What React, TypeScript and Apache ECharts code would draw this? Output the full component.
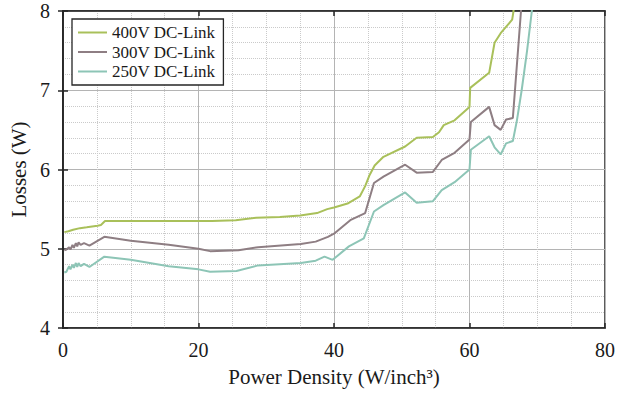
import React, { useEffect, useRef } from "react";
import * as echarts from "echarts";

const seriesNames = ["400V DC-Link", "300V DC-Link", "250V DC-Link"];
const seriesColors = ["#a9c05a", "#8e7e83", "#8dc5b6"];

const x400 = [0.2, 0.8, 1.5, 2.5, 3.5, 4.3, 5.1, 5.6, 6.2, 10, 15, 20, 22, 25.5, 28.5, 32, 35, 37.5, 39, 40, 42, 43.8, 44.6, 45.2, 46, 47.3, 50.5, 52.2, 54.6, 55.5, 56.2, 57.8, 60, 60.1, 62.9, 63.7, 64.6, 66.3, 66.5, 66.8];
const y400 = [5.21, 5.22, 5.24, 5.26, 5.27, 5.28, 5.29, 5.30, 5.35, 5.35, 5.35, 5.35, 5.35, 5.36, 5.39, 5.40, 5.42, 5.45, 5.50, 5.52, 5.57, 5.66, 5.79, 5.92, 6.05, 6.16, 6.29, 6.40, 6.41, 6.47, 6.56, 6.62, 6.79, 7.03, 7.22, 7.60, 7.72, 7.89, 8.0, 8.3];

const x300 = [0.2, 0.5, 0.9, 1.1, 1.4, 1.6, 1.9, 2.1, 2.3, 2.6, 3.1, 3.9, 6.1, 10, 15.6, 20, 21.7, 25.9, 28.8, 35.1, 37.3, 39.1, 40, 42.4, 44.6, 45.9, 47.3, 50.5, 52.2, 54.6, 55.9, 57.8, 60, 60.2, 62.9, 63.7, 64.6, 65.4, 66.4, 67.6, 67.8];
const y300 = [4.98, 4.99, 5.02, 4.99, 5.05, 5.01, 5.07, 5.03, 5.08, 5.05, 5.07, 5.04, 5.15, 5.10, 5.05, 5.00, 4.97, 4.98, 5.02, 5.06, 5.09, 5.15, 5.19, 5.36, 5.45, 5.83, 5.91, 6.06, 5.96, 5.97, 6.12, 6.21, 6.38, 6.60, 6.79, 6.56, 6.50, 6.63, 6.65, 8.0, 8.3];

const x250 = [0.2, 0.5, 0.9, 1.1, 1.4, 1.6, 1.9, 2.1, 2.3, 2.6, 3.1, 3.9, 6.1, 10, 15.6, 20, 21.7, 25.6, 28.8, 35.1, 37.3, 38.6, 39.8, 42.2, 44.4, 45.9, 47.3, 50.5, 52.2, 54.6, 55.9, 57.8, 60, 60.2, 62.9, 63.7, 64.6, 65.4, 66.4, 67.0, 67.7, 68.5, 69.2, 69.4];
const y250 = [4.70, 4.71, 4.78, 4.74, 4.80, 4.76, 4.82, 4.77, 4.82, 4.78, 4.81, 4.77, 4.90, 4.86, 4.78, 4.74, 4.71, 4.72, 4.79, 4.82, 4.85, 4.90, 4.86, 5.03, 5.13, 5.47, 5.55, 5.71, 5.58, 5.60, 5.74, 5.84, 6.00, 6.25, 6.42, 6.28, 6.19, 6.33, 6.36, 6.62, 7.0, 7.5, 8.0, 8.2];

const xTicks = { min: 0, max: 80, interval: 20 };
const yTicks = { min: 4, max: 8, interval: 1 };

const FONT = "'Liberation Serif', serif";
const FRAME = "#262626";
const TXT = "#1a1a1a";

export default function App() {
  const ref = useRef<HTMLDivElement>(null);
  useEffect(() => {
    if (!ref.current) return;
    const chart = echarts.init(ref.current, null, { renderer: "svg" });
    const pairs = (xs: number[], ys: number[]) => xs.map((x, i) => [x, ys[i]]);
    const dataSets = [pairs(x400, y400), pairs(x300, y300), pairs(x250, y250)];
    const option: any = {
      animation: false,
      backgroundColor: "#ffffff",
      grid: { left: 63, right: 9, top: 11, bottom: 66, show: true, borderColor: FRAME, borderWidth: 1.5 },
      legend: {
        left: 72,
        top: 19,
        orient: "vertical",
        backgroundColor: "#ffffff",
        borderColor: FRAME,
        borderWidth: 1.3,
        padding: [5, 8, 5, 6],
        itemGap: 2.5,
        itemWidth: 29,
        itemHeight: 2,
        icon: "rect",
        textStyle: { fontFamily: FONT, fontSize: 17, color: TXT },
        data: seriesNames,
      },
      xAxis: [
        {
          type: "value",
          min: xTicks.min,
          max: xTicks.max,
          interval: xTicks.interval,
          position: "bottom",
          name: "Power Density (W/inch³)",
          nameLocation: "middle",
          nameGap: 38,
          nameTextStyle: { fontFamily: FONT, fontSize: 21, color: TXT },
          axisLine: { show: true, lineStyle: { color: FRAME, width: 1.5 } },
          axisTick: { show: true, inside: true, length: 5, lineStyle: { color: FRAME, width: 1.5 } },
          axisLabel: { fontFamily: FONT, fontSize: 20, color: TXT, margin: 12 },
          splitLine: { show: true, lineStyle: { color: "#b4b4b4", width: 1 } },
          minorTick: { show: true, splitNumber: 4, length: 0 },
          minorSplitLine: { show: true, lineStyle: { color: "#cacaca", width: 1, type: "dotted" } },
        },
        {
          type: "value",
          min: xTicks.min,
          max: xTicks.max,
          interval: xTicks.interval,
          position: "top",
          axisLine: { show: true, lineStyle: { color: FRAME, width: 1.5 } },
          axisTick: { show: true, inside: true, length: 5, lineStyle: { color: FRAME, width: 1.5 } },
          axisLabel: { show: false },
          splitLine: { show: false },
        },
      ],
      yAxis: [
        {
          type: "value",
          min: yTicks.min,
          max: yTicks.max,
          interval: yTicks.interval,
          position: "left",
          name: "Losses (W)",
          nameLocation: "middle",
          nameGap: 34,
          nameTextStyle: { fontFamily: FONT, fontSize: 21, color: TXT },
          axisLine: { show: true, lineStyle: { color: FRAME, width: 1.5 } },
          axisTick: { show: true, inside: true, length: 5, lineStyle: { color: FRAME, width: 1.5 } },
          axisLabel: { fontFamily: FONT, fontSize: 20, color: TXT, margin: 13 },
          splitLine: { show: true, lineStyle: { color: "#b4b4b4", width: 1 } },
          minorTick: { show: true, splitNumber: 5, length: 0 },
          minorSplitLine: { show: true, lineStyle: { color: "#cacaca", width: 1, type: "dotted" } },
        },
        {
          type: "value",
          min: yTicks.min,
          max: yTicks.max,
          interval: yTicks.interval,
          position: "right",
          axisLine: { show: true, lineStyle: { color: FRAME, width: 1.5 } },
          axisTick: { show: true, inside: true, length: 5, lineStyle: { color: FRAME, width: 1.5 } },
          axisLabel: { show: false },
          splitLine: { show: false },
        },
      ],
      series: seriesNames.map((name, i) => ({
        name,
        type: "line",
        xAxisIndex: 0,
        yAxisIndex: 0,
        data: dataSets[i],
        showSymbol: false,
        symbol: "none",
        clip: true,
        itemStyle: { color: seriesColors[i] },
        lineStyle: { color: seriesColors[i], width: 2 },
      })),
    };
    chart.setOption(option);
    return () => chart.dispose();
  }, []);
  return <div ref={ref} style={{ position: "fixed", left: 0, top: 0, width: 618, height: 394 }} />;
}
